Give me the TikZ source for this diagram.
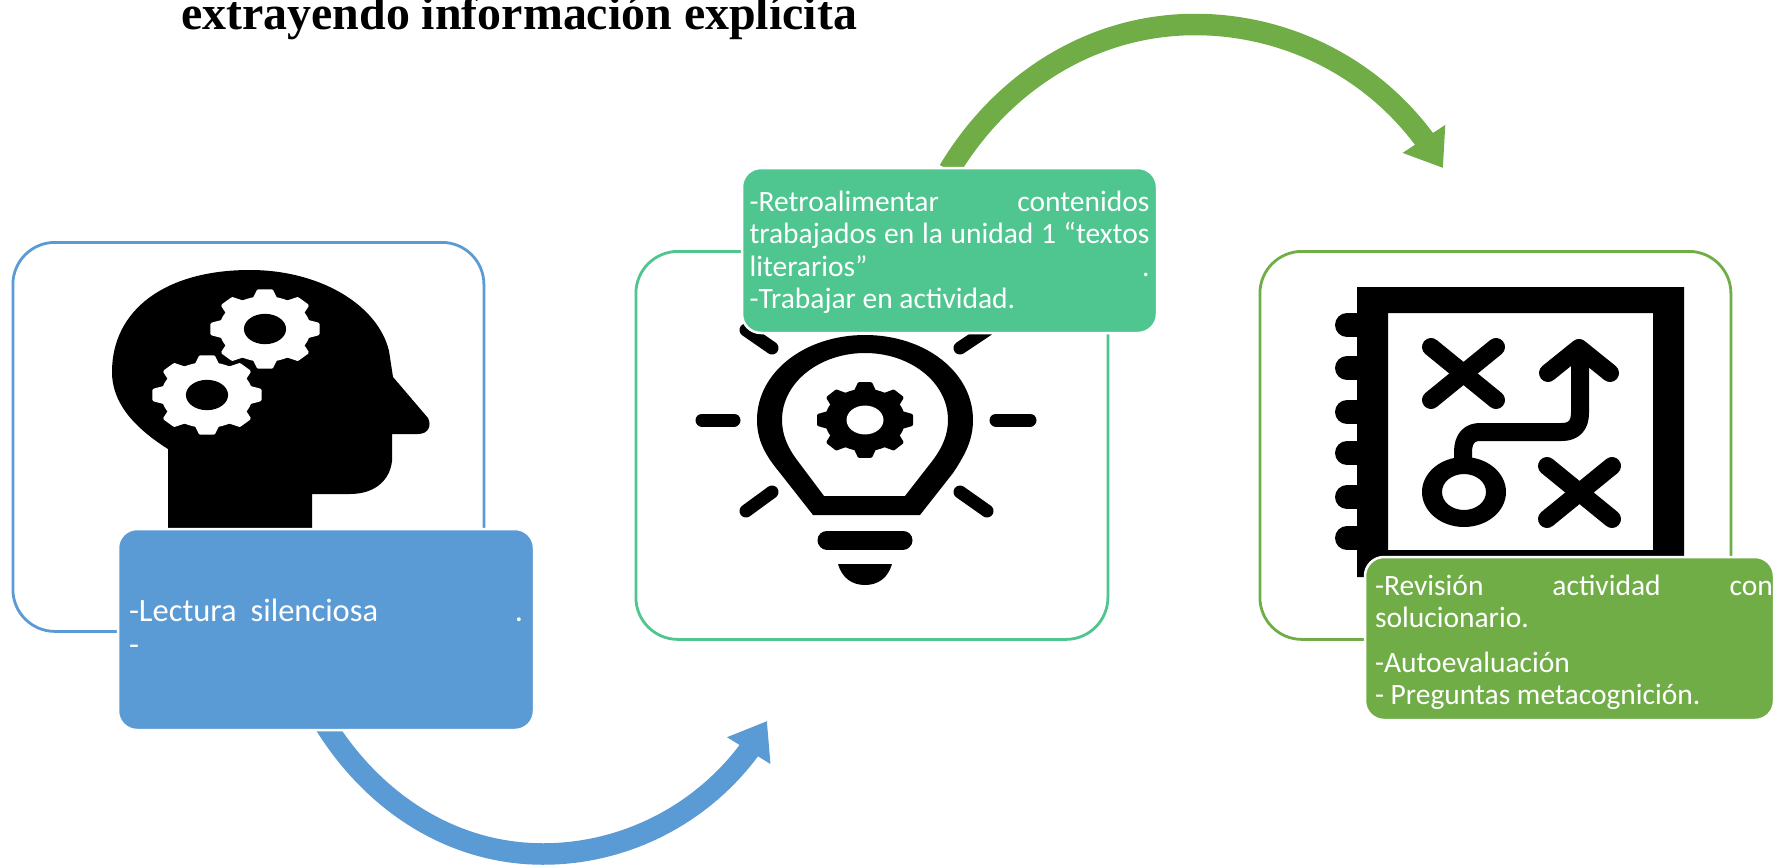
\documentclass[tikz,border=0pt]{standalone}
\usepackage{fontspec}
\setmainfont{Carlito}
\newfontfamily\titlefont{Liberation Serif}
\usetikzlibrary{arrows.meta,backgrounds}
\definecolor{cblue}{HTML}{5B9BD5}
\definecolor{cteal}{HTML}{4FC58F}
\definecolor{cgreen}{HTML}{70AD47}
\newcommand{\jl}[2]{\makebox[#1][s]{#2}}
\newcommand{\gearicon}[6]{%
  \begin{scope}[shift={(#1,#2)},xscale=#3,yscale=#4]
    \fill[#5] (0,0) circle (.8);
    \foreach \a in {0,45,...,315}{
      \filldraw[#5,line width=3pt,line join=round,rotate=\a] (.6,-.24) -- (.93,-.12) -- (.93,.12) -- (.6,.24) -- cycle;
    }
    \fill[#6] (0,0) circle (.37);
  \end{scope}}
\tikzset{
  outlinebox/.style={draw=#1,line width=2.8pt,rounded corners=42pt,fill=none},
  card/.style={fill=#1,draw=white,line width=2.5pt,rounded corners=19pt,text=white,
    inner sep=0pt,outer sep=0pt,align=flush left,font=\fontsize{29.5}{32.4}\selectfont},
  sweep/.style={draw=#1,line width=21.5pt,line cap=butt,
    -{Triangle[length=34.8pt,width=48.6pt]}},
  ray/.style={line width=13pt,line cap=round,black},
  pen/.style={line width=18pt,line cap=round,black}
}
\begin{document}
\begin{tikzpicture}[x=1pt,y=-1pt]
\useasboundingbox (0,0) rectangle (1773,867);
% cards
\node[card=cblue,font=\fontsize{32.5}{34}\selectfont,anchor=north west,minimum width=416pt,minimum height=201pt,text width=394pt] (blueBox) at (118,529)
  {\jl{394pt}{-Lectura\hspace{14pt}silenciosa\hfill .}\\-\rule[-4pt]{0pt}{0pt}};
\node[card=cteal,anchor=north west,minimum width=415pt,minimum height=165pt,text width=400pt] (tealBox) at (742,168)
  {\rule{0pt}{24pt}\jl{400pt}{-Retroalimentar contenidos}\\
   \jl{400pt}{trabajados en la unidad 1 “textos}\\
   \jl{400pt}{literarios”\hfill .}\\
   -Trabajar en actividad.};
\node[card=cgreen,anchor=north west,minimum width=409pt,minimum height=163pt,text width=407pt] (greenBox) at (1365,557)
  {\rule{0pt}{28pt}\hspace*{9pt}\jl{398pt}{-Revisión actividad con}\\
   \hspace*{9pt}solucionario.\\[12.6pt]
   \hspace*{9pt}-Autoevaluación\\
   \hspace*{9pt}- Preguntas metacognición.};
\node[anchor=base west,inner sep=0pt,font=\titlefont\bfseries\fontsize{47.9}{50}\selectfont,text=black] (titleText) at (181,29.5)
  {extrayendo información explícita};
\begin{pgfonlayer}{background}
\fill[white] (0,0) rectangle (1773,867);
% outlined frames
\node[outlinebox=cblue,anchor=north west,minimum width=471pt,minimum height=389pt] (blueFrame) at (11.5,241) {};
\node[outlinebox=cteal,anchor=north west,minimum width=472pt,minimum height=388pt] (tealFrame) at (634.5,250) {};
\node[outlinebox=cgreen,anchor=north west,minimum width=471pt,minimum height=388pt] (greenFrame) at (1258.5,250) {};
% head icon
\fill[black] (168,530) -- (168,449) .. controls (130,425) and (112,400) .. (112,372)
  .. controls (112,310) and (165,270) .. (250,270)
  .. controls (320,270) and (378,305) .. (389,351) -- (393,377) -- (428,418)
  .. controls (432,426) and (428,434) .. (418,434) -- (392,434) -- (392,461)
  .. controls (390,480) and (375,494) .. (350,494) -- (312,494) -- (312,530) -- cycle;
\gearicon{265}{329}{57}{41}{white}{black}
\gearicon{207}{395}{57}{41}{white}{black}
% bulb icon
\fill[black,even odd rule]
  (865,335) .. controls (805,335) and (757,372) .. (757,420)
  .. controls (757,440) and (765,455) .. (780,473) -- (813,515) -- (920,515) -- (953,473)
  .. controls (965,455) and (973,440) .. (973,420)
  .. controls (973,372) and (925,335) .. (865,335) -- cycle
  (865,353) .. controls (820,353) and (782,382) .. (782,420)
  .. controls (782,435) and (788,448) .. (797,460) -- (824,496) -- (905,496) -- (933,460)
  .. controls (942,448) and (948,435) .. (948,420)
  .. controls (948,382) and (910,353) .. (865,353) -- cycle;
\gearicon{865}{420}{50}{39}{black}{white}
\draw[ray] (702,420) -- (734,420);
\draw[ray] (996,420) -- (1030,420);
\draw[ray] (746,511) -- (772,492);
\draw[ray] (960,492) -- (987,511);
\draw[ray] (746,330) -- (772,348);
\draw[ray] (960,348) -- (987,330);
\draw[line width=19pt,line cap=round,black] (827,540) -- (903,540);
\fill[black] (838,564) -- (892,564) .. controls (888,578) and (878,585) .. (865,585)
  .. controls (852,585) and (842,578) .. (838,564) -- cycle;
% notebook icon
\fill[black,even odd rule] (1357,287) rectangle (1684,577) (1388,313) rectangle (1653,550);
\foreach \yy in {325,368,412,453,497,538}{
  \draw[line width=24pt,line cap=round,black] (1347,\yy) -- (1360,\yy);
}
\draw[pen] (1431,347) -- (1496,400);
\draw[pen] (1431,400) -- (1496,347);
\draw[pen] (1547,466) -- (1612,519);
\draw[pen] (1547,519) -- (1612,466);
\draw[pen,line join=round] (1463,465) -- (1463,452) .. controls (1463,438) and (1470,432) .. (1480,432)
  -- (1562,432) .. controls (1574,432) and (1580,425) .. (1580,413) -- (1580,350);
\draw[pen,line join=round] (1548,373) -- (1579,348) -- (1610,373);
\fill[black,even odd rule] (1464,492) ellipse [x radius=42,y radius=35] (1464,492) ellipse [x radius=22,y radius=18];
% arrows
\coordinate (blueStart) at ([xshift=206.5pt,yshift=6.5pt]blueBox.south west);
\coordinate (blueLow) at (543,854);
\coordinate (blueNeck) at (748.5,751);
\coordinate (blueTip) at (767,721);
\draw[sweep=cblue] (blueStart) .. controls (376,806.5) and (456,854) .. (blueLow)
  .. controls (623.8,854) and (700,815.5) .. (blueNeck) -- (blueTip);
\coordinate (greenStart) at ([xshift=207pt,yshift=-2.5pt]tealBox.north west);
\coordinate (greenHigh) at (1195,24.5);
\coordinate (greenNeck) at (1424,139);
\coordinate (greenTip) at (1443,168);
\draw[sweep=cgreen] (greenStart) .. controls (1004,79) and (1095,24.5) .. (greenHigh)
  .. controls (1285,24.5) and (1370,66.5) .. (greenNeck) -- (greenTip);
\end{pgfonlayer}
\end{tikzpicture}
\end{document}
